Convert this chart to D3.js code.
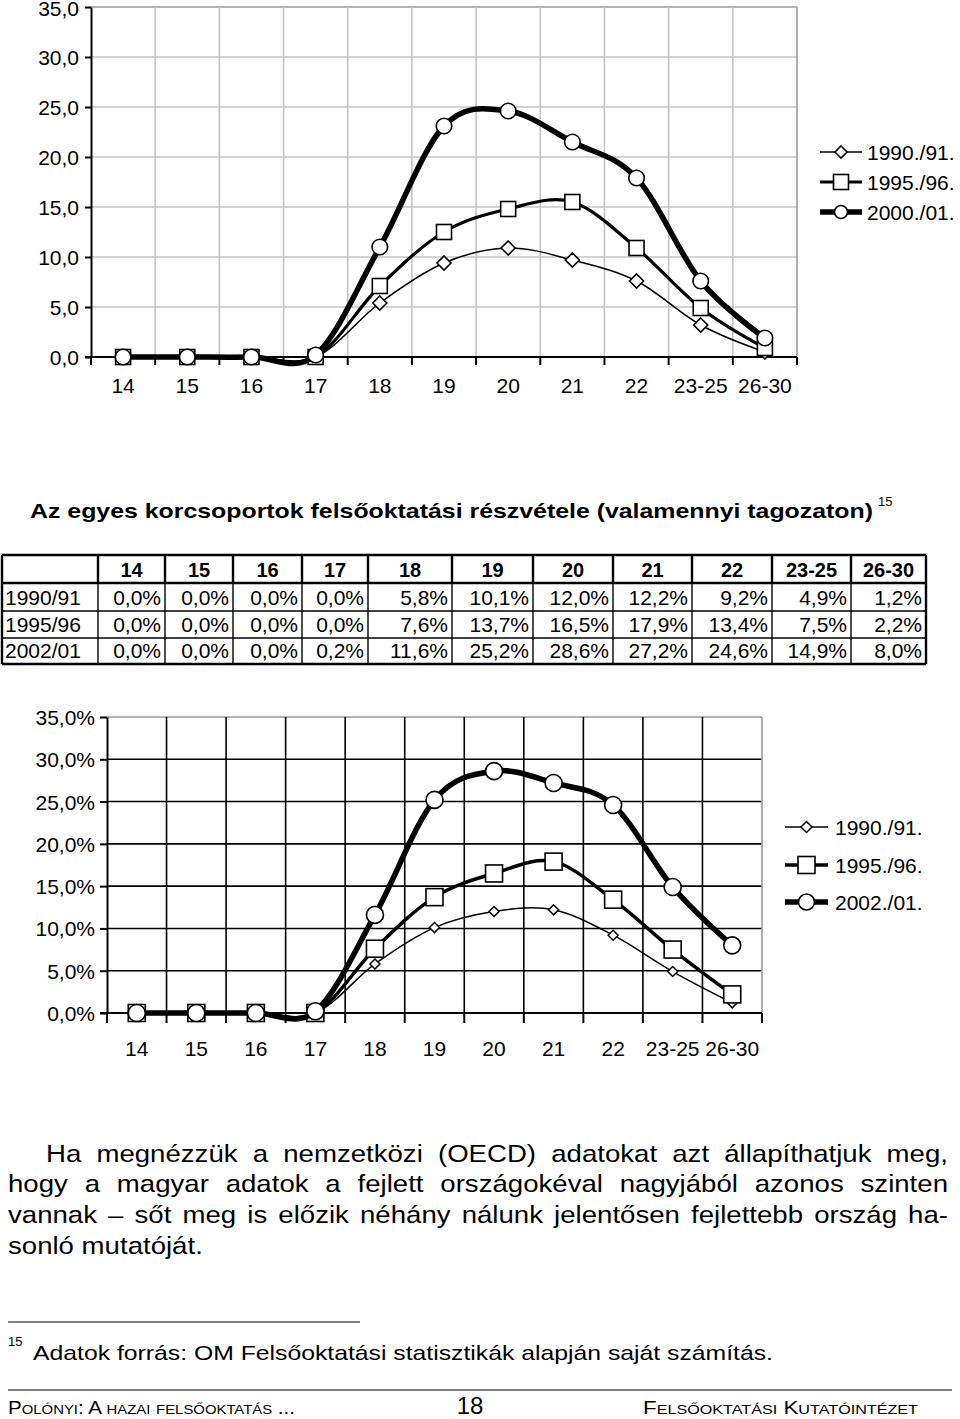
<!DOCTYPE html>
<html><head><meta charset="utf-8">
<script src="https://cdn.jsdelivr.net/npm/d3@7"></script>
<style>
body{margin:0;background:#fff;}
svg{display:block;font-family:"Liberation Sans",Arial,sans-serif;}
</style></head><body>
<svg id="c" width="960" height="1419"></svg>
<script>
// ---------- data ----------
const categories = ["14","15","16","17","18","19","20","21","22","23-25","26-30"];
const topSeries1990 = [0,0,0,0,5.4,9.4,10.9,9.7,7.6,3.2,0.5];
const topSeries1995 = [0,0,0,0,7.1,12.5,14.8,15.5,10.9,4.9,0.9];
const topSeries2000 = [0,0,0,0.2,11.0,23.1,24.6,21.5,17.9,7.6,1.9];
const topLegend = ["1990./91.","1995./96.","2000./01."];
const topTicks = [0,5,10,15,20,25,30,35];

const tableTitle = "Az egyes korcsoportok felsőoktatási részvétele (valamennyi tagozaton)";
const tableRows = ["1990/91","1995/96","2002/01"];
const table1990 = [0,0,0,0,5.8,10.1,12.0,12.2,9.2,4.9,1.2];
const table1995 = [0,0,0,0,7.6,13.7,16.5,17.9,13.4,7.5,2.2];
const table2002 = [0,0,0,0.2,11.6,25.2,28.6,27.2,24.6,14.9,8.0];

const bottomLegend = ["1990./91.","1995./96.","2002./01."];
const bottomTicks = [0,5,10,15,20,25,30,35];

const paragraphLines = [
  "Ha megnézzük a nemzetközi (OECD) adatokat azt állapíthatjuk meg,",
  "hogy a magyar adatok a fejlett országokéval nagyjából azonos szinten",
  "vannak – sőt meg is előzik néhány nálunk jelentősen fejlettebb ország ha-",
  "sonló mutatóját."
];
const footnoteText = "Adatok forrás: OM Felsőoktatási statisztikák alapján saját számítás.";
const footerLeft = "Polónyi: A hazai felsőoktatás ...";
const footerRight = "Felsőoktatási Kutatóintézet";
const pageNumber = "18";

// ---------- helpers ----------
const FONT = "'Liberation Sans', Arial, sans-serif";
const svg = d3.select("#c");
const fmt1 = v => d3.format(".1f")(v).replace(".", ",");
const fmtPct = v => fmt1(v) + "%";

function marker(g, type, cx, cy, size, sw) {
  if (type === "diamond") {
    g.append("path").attr("d", `M${cx},${cy-size}L${cx+size},${cy}L${cx},${cy+size}L${cx-size},${cy}Z`)
      .attr("fill", "#fff").attr("stroke", "#000").attr("stroke-width", sw);
  } else if (type === "square") {
    g.append("rect").attr("x", cx-size).attr("y", cy-size).attr("width", 2*size).attr("height", 2*size)
      .attr("fill", "#fff").attr("stroke", "#000").attr("stroke-width", sw);
  } else {
    g.append("circle").attr("cx", cx).attr("cy", cy).attr("r", size)
      .attr("fill", "#fff").attr("stroke", "#000").attr("stroke-width", sw);
  }
}

function drawChart(o) {
  const g = svg.append("g");
  const x = d3.scaleBand().domain(categories).range([o.x0, o.x1]).padding(0);
  const y = d3.scaleLinear().domain([0, 35]).range([o.yBottom, o.yTop]);
  const bw = x.bandwidth();
  o.ticks.filter(t => t > 0).forEach(t => {
    g.append("line").attr("x1", o.x0).attr("x2", o.x1).attr("y1", y(t)).attr("y2", y(t))
      .attr("stroke", t === 35 ? "#9a9a9a" : o.gridColor).attr("stroke-width", o.gridWidth);
  });
  for (let i = 1; i <= categories.length; i++) {
    const xx = o.x0 + i * bw;
    const last = i === categories.length;
    g.append("line").attr("x1", xx).attr("x2", xx).attr("y1", o.yTop).attr("y2", o.yBottom)
      .attr("stroke", last ? "#9a9a9a" : o.gridColor).attr("stroke-width", o.gridWidth);
  }
  for (let i = 0; i <= categories.length; i++) {
    const xx = o.x0 + i * bw;
    g.append("line").attr("x1", xx).attr("x2", xx).attr("y1", o.yBottom).attr("y2", o.yBottom + o.tickLen)
      .attr("stroke", "#000").attr("stroke-width", 2);
  }
  const ya = g.append("g").attr("transform", `translate(${o.x0},0)`)
    .call(d3.axisLeft(y).tickValues(o.ticks).tickSize(o.yTickLen).tickSizeOuter(0).tickPadding(o.yPad).tickFormat(o.fmt));
  ya.attr("font-family", FONT);
  ya.select(".domain").attr("stroke-width", 2);
  ya.selectAll(".tick line").attr("stroke-width", 2);
  ya.selectAll(".tick text").attr("font-size", o.fs).attr("font-family", FONT)
    .attr("fill", "#000").attr("dy", d => (o.topNudge && d === 35) ? "0.42em" : "0.36em");
  g.append("line").attr("x1", o.x0 - o.yTickLen).attr("x2", o.x1).attr("y1", o.yBottom).attr("y2", o.yBottom)
    .attr("stroke", "#000").attr("stroke-width", 2);
  const xa = g.append("g").attr("transform", `translate(0,${o.yBottom})`)
    .call(d3.axisBottom(x).tickSize(0).tickPadding(0));
  xa.attr("font-family", FONT);
  xa.select(".domain").remove();
  xa.selectAll(".tick text").attr("font-size", o.fs).attr("font-family", FONT)
    .attr("fill", "#000").attr("dy", null).attr("y", o.xLabelY - o.yBottom);
  const line = d3.line().x((d, i) => x(categories[i]) + bw / 2).y(d => y(d)).curve(d3.curveCardinal.tension(0));
  o.series.forEach(s => {
    g.append("path").attr("d", line(s.values)).attr("fill", "none").attr("stroke", "#000")
      .attr("stroke-width", s.lw).attr("stroke-linejoin", "round");
    const mg = g.append("g");
    s.values.forEach((v, i) => marker(mg, s.type, x(categories[i]) + bw / 2, y(v), s.ms, s.msw));
  });
  o.series.forEach((s, i) => {
    const ly = o.legY[i];
    g.append("line").attr("x1", o.legX0).attr("x2", o.legX1).attr("y1", ly).attr("y2", ly)
      .attr("stroke", "#000").attr("stroke-width", s.lw);
    marker(g, s.type, (o.legX0 + o.legX1) / 2, ly, s.lms, s.msw);
    g.append("text").attr("x", o.legTextX).attr("y", ly + 7.5).attr("font-size", o.fs).text(o.legend[i]);
  });
}

// ---------- top chart ----------
drawChart({
  x0: 91, x1: 797, yTop: 7, yBottom: 357, ticks: topTicks, fmt: fmt1, topNudge: true,
  gridColor: "#c4c4c4", gridWidth: 1.6, tickLen: 8, yTickLen: 6, yPad: 6, fs: 21, xLabelY: 393,
  series: [
    {values: topSeries1990, type: "diamond", lw: 1.5, ms: 7, lms: 6, msw: 1.6},
    {values: topSeries1995, type: "square", lw: 3.2, ms: 7.5, lms: 7.5, msw: 1.6},
    {values: topSeries2000, type: "circle", lw: 5.5, ms: 7.8, lms: 6.5, msw: 1.6}
  ],
  legend: topLegend, legY: [152, 182, 212], legX0: 820, legX1: 862, legTextX: 867
});

// ---------- title ----------
svg.append("text").attr("x", 30).attr("y", 518).attr("font-size", 21).attr("font-weight", "bold")
  .attr("textLength", 843).attr("lengthAdjust", "spacingAndGlyphs").text(tableTitle);
svg.append("text").attr("x", 878).attr("y", 506).attr("font-size", 13).text("15");

// ---------- table ----------
const colEdges = [2, 98, 165, 233, 302, 368, 452, 533, 613, 692, 772, 851, 926];
const rowEdges = [555, 583, 611, 638, 664];
const tg = svg.append("g");
const tableData = [table1990, table1995, table2002];
categories.forEach((c, i) => {
  tg.append("text").attr("x", (colEdges[i + 1] + colEdges[i + 2]) / 2).attr("y", 577)
    .attr("text-anchor", "middle").attr("font-weight", "bold").attr("font-size", 20).text(c);
});
const rowBase = [605, 632, 658];
tableRows.forEach((r, ri) => {
  tg.append("text").attr("x", 5).attr("y", rowBase[ri]).attr("font-size", 21).text(r);
  tableData[ri].forEach((v, ci) => {
    tg.append("text").attr("x", colEdges[ci + 2] - 4).attr("y", rowBase[ri]).attr("text-anchor", "end")
      .attr("font-size", 21).text(fmtPct(v));
  });
});
rowEdges.forEach((ry, i) => {
  const w = (i <= 1 || i === rowEdges.length - 1) ? 2.4 : 1.4;
  tg.append("line").attr("x1", colEdges[0]).attr("x2", colEdges[colEdges.length - 1]).attr("y1", ry).attr("y2", ry)
    .attr("stroke", "#000").attr("stroke-width", w);
});
colEdges.forEach((cx, i) => {
  const outer = i === 0 || i === colEdges.length - 1;
  tg.append("line").attr("x1", cx).attr("x2", cx).attr("y1", rowEdges[0]).attr("y2", rowEdges[1])
    .attr("stroke", "#000").attr("stroke-width", 2.4);
  tg.append("line").attr("x1", cx).attr("x2", cx).attr("y1", rowEdges[1]).attr("y2", rowEdges[rowEdges.length - 1])
    .attr("stroke", "#000").attr("stroke-width", outer ? 2.4 : 1.4);
});

// ---------- bottom chart ----------
drawChart({
  x0: 107, x1: 762, yTop: 717, yBottom: 1013, ticks: bottomTicks, fmt: fmtPct,
  gridColor: "#000", gridWidth: 1.6, tickLen: 10, yTickLen: 7, yPad: 5, fs: 21, xLabelY: 1056,
  series: [
    {values: table1990, type: "diamond", lw: 1.5, ms: 5, lms: 5.5, msw: 1.5},
    {values: table1995, type: "square", lw: 3.5, ms: 8.5, lms: 8.5, msw: 1.6},
    {values: table2002, type: "circle", lw: 5.5, ms: 8.5, lms: 8, msw: 1.6}
  ],
  legend: bottomLegend, legY: [827, 865, 902], legX0: 785, legX1: 828, legTextX: 835
});

// ---------- paragraph (justified) ----------
const pg = svg.append("g").attr("font-size", 24);
const scaleX = 1.15;
const meas = pg.append("text").attr("x", 0).attr("y", -100);
function wWidth(t) { meas.text(t); return meas.node().getComputedTextLength(); }
const spaceW = wWidth("a a") - 2 * wWidth("a");
const lineStarts = [46, 8, 8, 8];
const lineBases = [1162, 1192, 1223, 1254];
const rightEdge = 948;
const pInner = pg.append("g").attr("transform", `scale(${scaleX},1)`);
paragraphLines.forEach((ln, li) => {
  const words = ln.split(" ");
  const ws = words.map(wWidth);
  const x0 = lineStarts[li] / scaleX, x1 = rightEdge / scaleX;
  const total = d3.sum(ws);
  const justify = li < paragraphLines.length - 1;
  const gap = justify ? Math.max(spaceW * 0.6, (x1 - x0 - total) / (words.length - 1)) : spaceW;
  let cx = x0;
  words.forEach((w, i) => {
    pInner.append("text").attr("x", cx).attr("y", lineBases[li]).text(w);
    cx += ws[i] + gap;
  });
});
meas.remove();

// ---------- footnote ----------
svg.append("line").attr("x1", 8).attr("x2", 360).attr("y1", 1322).attr("y2", 1322).attr("stroke", "#000").attr("stroke-width", 1.2);
svg.append("text").attr("x", 8).attr("y", 1346).attr("font-size", 13).text("15");
svg.append("text").attr("x", 33).attr("y", 1360).attr("font-size", 21)
  .attr("textLength", 740).attr("lengthAdjust", "spacingAndGlyphs").text(footnoteText);

// ---------- footer ----------
svg.append("line").attr("x1", 8).attr("x2", 952).attr("y1", 1390).attr("y2", 1390).attr("stroke", "#000").attr("stroke-width", 1.2);
svg.append("text").attr("x", 8).attr("y", 1414).attr("font-size", 18).style("font-variant", "small-caps")
  .attr("textLength", 287).attr("lengthAdjust", "spacingAndGlyphs").text(footerLeft);
svg.append("text").attr("x", 470).attr("y", 1414).attr("font-size", 24).attr("text-anchor", "middle").text(pageNumber);
svg.append("text").attr("x", 643).attr("y", 1414).attr("font-size", 18).style("font-variant", "small-caps")
  .attr("textLength", 275).attr("lengthAdjust", "spacingAndGlyphs").text(footerRight);
</script>
</body></html>
